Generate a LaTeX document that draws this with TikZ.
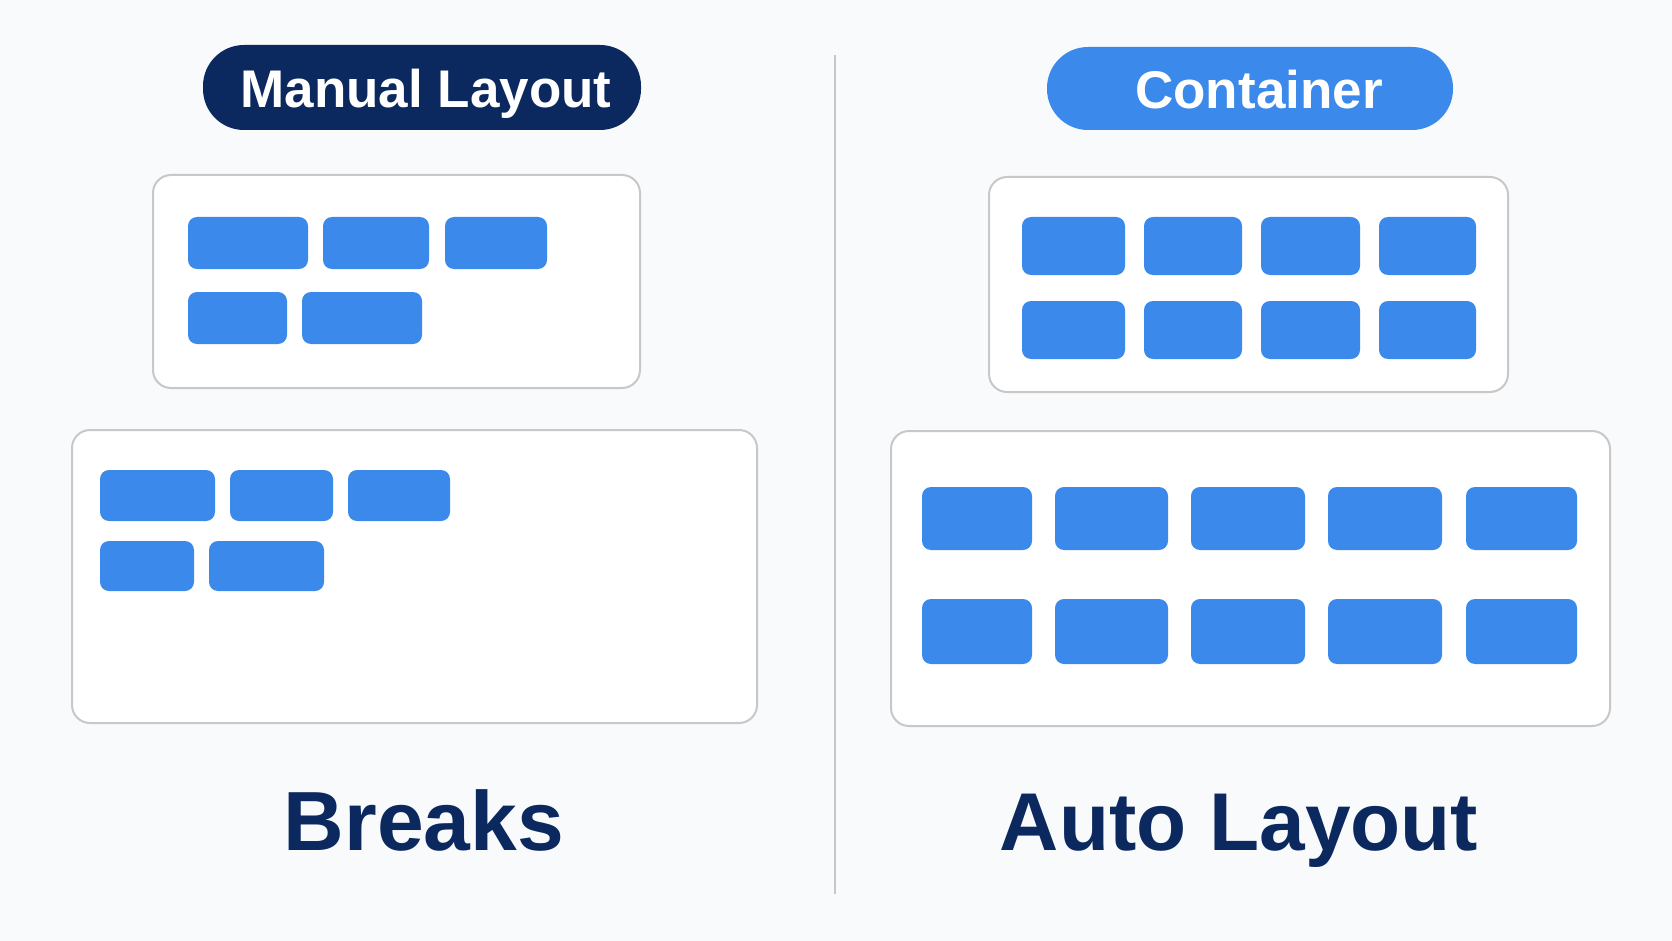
\documentclass[tikz,border=0pt]{standalone}
\usepackage{fontspec}
\setmainfont{Liberation Sans}
\definecolor{navy}{RGB}{11,41,94}
\definecolor{bblue}{RGB}{59,137,234}
\definecolor{bg}{RGB}{249,250,251}
\definecolor{frame}{RGB}{200,200,200}
\tikzset{
  blk/.style={draw=none, fill=bblue, rounded corners=9pt, inner sep=0pt},
  cont/.style={draw=frame, line width=2pt, fill=white, rounded corners=18pt, inner sep=0pt},
  pill/.style={rounded corners=41pt, inner sep=0pt, text=white, text height=37pt, text depth=0pt,
    font=\fontsize{53}{60}\selectfont\bfseries},
  bigtxt/.style={text=navy, inner sep=0pt, anchor=base, font=\fontsize{84}{90}\selectfont\bfseries},
  divider/.style={draw=frame, line width=2pt}
}
\newcommand\rbox[6]{\node[#1, minimum width={#5-#3}, minimum height={#6-#4}] (#2) at ({(#3+#5)/2},{(#4+#6)/2}) {};}
\begin{document}
\begin{tikzpicture}[x=1pt,y=-1pt]
\fill[bg] (0,0) rectangle (1672,941);
\useasboundingbox (0,0) rectangle (1672,941);

% pills
\node[pill, fill=navy, minimum width=438pt, minimum height=85pt] (manual) at (422,87.5) {};
\node[pill, fill=bblue, minimum width=406pt, minimum height=83pt] (container) at (1250,88.5) {};
\node[pill] (manualtxt) at ([xshift=4pt,yshift=-2pt]manual.center) {Manual Layout};
\node[pill] (containertxt) at ([xshift=9pt,yshift=-2pt]container.center) {Container};

% divider
\coordinate (dtop) at (835,55);
\coordinate (dbot) at (835,894);
\draw[divider] (dtop) -- (dbot);

% top-left container
\rbox{cont}{tlc}{153}{175}{640}{388}
\rbox{blk}{tl1}{188}{217}{308}{269}
\rbox{blk}{tl2}{323}{217}{429}{269}
\rbox{blk}{tl3}{445}{217}{547}{269}
\rbox{blk}{tl4}{188}{292}{287}{344}
\rbox{blk}{tl5}{302}{292}{422}{344}

% bottom-left container
\rbox{cont}{blc}{72}{430}{757}{723}
\rbox{blk}{bl1}{100}{470}{215}{521}
\rbox{blk}{bl2}{230}{470}{333}{521}
\rbox{blk}{bl3}{348}{470}{450}{521}
\rbox{blk}{bl4}{100}{541}{194}{591}
\rbox{blk}{bl5}{209}{541}{324}{591}

% top-right container
\rbox{cont}{trc}{989}{177}{1508}{392}
\rbox{blk}{tr1}{1022}{217}{1125}{275}
\rbox{blk}{tr2}{1144}{217}{1242}{275}
\rbox{blk}{tr3}{1261}{217}{1360}{275}
\rbox{blk}{tr4}{1379}{217}{1476}{275}
\rbox{blk}{tr5}{1022}{301}{1125}{359}
\rbox{blk}{tr6}{1144}{301}{1242}{359}
\rbox{blk}{tr7}{1261}{301}{1360}{359}
\rbox{blk}{tr8}{1379}{301}{1476}{359}

% bottom-right container
\rbox{cont}{brc}{891}{431}{1610}{726}
\rbox{blk}{br1}{922}{487}{1032}{550}
\rbox{blk}{br2}{1055}{487}{1168}{550}
\rbox{blk}{br3}{1191}{487}{1305}{550}
\rbox{blk}{br4}{1328}{487}{1442}{550}
\rbox{blk}{br5}{1466}{487}{1577}{550}
\rbox{blk}{br6}{922}{599}{1032}{664}
\rbox{blk}{br7}{1055}{599}{1168}{664}
\rbox{blk}{br8}{1191}{599}{1305}{664}
\rbox{blk}{br9}{1328}{599}{1442}{664}
\rbox{blk}{br10}{1466}{599}{1577}{664}

% captions
\node[bigtxt] (breaks) at (424,850) {Breaks};
\node[bigtxt, font=\fontsize{82}{90}\selectfont\bfseries] (auto) at (1239,850) {Auto Layout};
\end{tikzpicture}
\end{document}
